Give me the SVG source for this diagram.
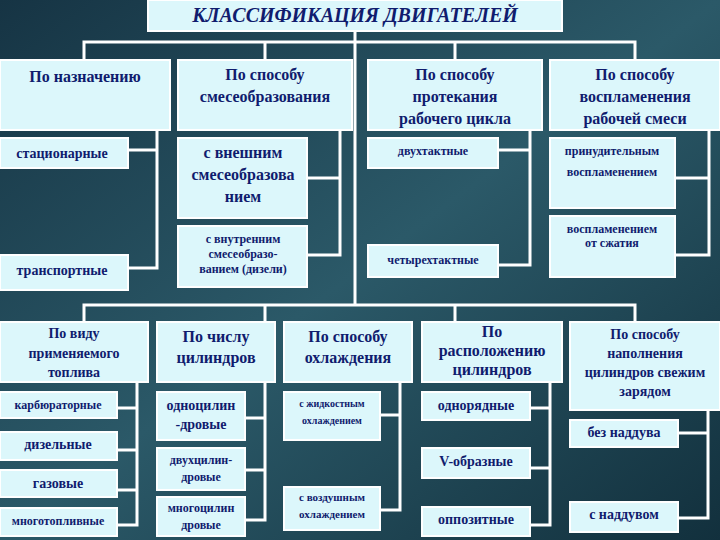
<svg xmlns="http://www.w3.org/2000/svg" width="720" height="540" viewBox="0 0 720 540">
<defs>
<linearGradient id="bg" x1="0" y1="0" x2="1" y2="1">
<stop offset="0" stop-color="#163444"/><stop offset="0.5" stop-color="#2b5968"/><stop offset="1" stop-color="#12303d"/>
</linearGradient>
</defs>
<style>
.b{fill:#dcf7fb;stroke:#ffffff;stroke-width:2}
.t{font-weight:bold;fill:#101c6e;text-anchor:middle}
.h{font-size:16px}
.s{font-size:14px}
.x{font-size:12px}
.c{fill:none;stroke:#ffffff;stroke-width:3}
</style>
<rect width="720" height="540" fill="url(#bg)"/>
<g id="connectors" class="c">
<path d="M355 31V305M84 60V42H635V60M265 42V60M455 42V60"/>
<path d="M170 95H157V268H128M128 150H157"/>
<path d="M352 95H340V255H307M307 178H340"/>
<path d="M542 95H530V265H498M498 150H530"/>
<path d="M720 95H709V255H675M675 178H709"/>
<path d="M84 322V305H635V322M265 305V322M455 305V322"/>
<path d="M148 352H137V525H117M117 408H137M117 450H137M117 490H137"/>
<path d="M265 382V520H245M245 418H265M245 470H265"/>
<path d="M400 382V510H380M380 415H400"/>
<path d="M550 382V525H530M530 408H550M530 468H550"/>
<path d="M708 410V518H678M678 433H708"/>
</g>
<g font-family="Liberation Serif, DejaVu Serif, serif">
<g id="title"><rect x="148" y="0" width="414" height="31" class="b"/><text x="355" y="22" class="t" font-size="20" font-style="italic">КЛАССИФИКАЦИЯ ДВИГАТЕЛЕЙ</text></g>
<g id="n1"><rect x="0" y="60" width="170" height="70" class="b"/><text x="85" y="82" class="t h">По назначению</text></g>
<g id="n2"><rect x="178" y="60" width="174" height="70" class="b"/><text x="265" y="80" class="t h">По способу</text><text x="265" y="102" class="t h">смесеобразования</text></g>
<g id="n3"><rect x="368" y="60" width="174" height="70" class="b"/><text x="455" y="80" class="t h">По способу</text><text x="455" y="102" class="t h">протекания</text><text x="455" y="124" class="t h">рабочего цикла</text></g>
<g id="n4"><rect x="550" y="60" width="170" height="70" class="b"/><text x="635" y="80" class="t h">По способу</text><text x="635" y="102" class="t h">воспламенения</text><text x="635" y="124" class="t h">рабочей смеси</text></g>
<g id="n1a"><rect x="0" y="138" width="128" height="30" class="b"/><text x="62" y="158" class="t s">стационарные</text></g>
<g id="n1b"><rect x="0" y="255" width="128" height="35" class="b"/><text x="62" y="275" class="t s">транспортные</text></g>
<g id="n2a"><rect x="178" y="138" width="129" height="80" class="b"/><text x="243" y="158" class="t h">с внешним</text><text x="243" y="180" class="t h">смесеобразова</text><text x="243" y="202" class="t h">нием</text></g>
<g id="n2b"><rect x="178" y="226" width="129" height="61" class="b"/><text x="243" y="243" class="t x">с внутренним</text><text x="243" y="258" class="t x">смесеобразо-</text><text x="243" y="273" class="t x">ванием (дизели)</text></g>
<g id="n3a"><rect x="368" y="138" width="130" height="30" class="b"/><text x="433" y="155" class="t x">двухтактные</text></g>
<g id="n3b"><rect x="368" y="245" width="130" height="32" class="b"/><text x="433" y="264" class="t x">четырехтактные</text></g>
<g id="n4a"><rect x="550" y="138" width="125" height="70" class="b"/><text x="612" y="155" class="t x">принудительным</text><text x="612" y="176" class="t x">воспламенением</text></g>
<g id="n4b"><rect x="550" y="216" width="125" height="61" class="b"/><text x="612" y="233" class="t x">воспламенением</text><text x="612" y="247" class="t x">от  сжатия</text></g>
<g id="m1"><rect x="0" y="322" width="148" height="60" class="b"/><text x="74" y="338" class="t s">По виду</text><text x="74" y="358" class="t s">применяемого</text><text x="74" y="377" class="t s">топлива</text></g>
<g id="m2"><rect x="157" y="322" width="118" height="60" class="b"/><text x="216" y="342" class="t h">По числу</text><text x="216" y="363" class="t h">цилиндров</text></g>
<g id="m3"><rect x="284" y="322" width="128" height="60" class="b"/><text x="348" y="342" class="t h">По способу</text><text x="348" y="363" class="t h">охлаждения</text></g>
<g id="m4"><rect x="422" y="322" width="140" height="60" class="b"/><text x="492" y="337" class="t h">По</text><text x="492" y="356" class="t h">расположению</text><text x="492" y="375" class="t h">цилиндров</text></g>
<g id="m5"><rect x="570" y="322" width="150" height="88" class="b"/><text x="645" y="339" class="t s">По способу</text><text x="645" y="358" class="t s">наполнения</text><text x="645" y="377" class="t s">цилиндров свежим</text><text x="645" y="396" class="t s">зарядом</text></g>
<g id="k1"><rect x="0" y="392" width="117" height="26" class="b"/><text x="58" y="409" class="t x">карбюраторные</text></g>
<g id="k2"><rect x="0" y="432" width="117" height="28" class="b"/><text x="58" y="449" class="t s">дизельные</text></g>
<g id="k3"><rect x="0" y="470" width="117" height="27" class="b"/><text x="58" y="488" class="t s">газовые</text></g>
<g id="k4"><rect x="0" y="508" width="117" height="28" class="b"/><text x="58" y="525" class="t x">многотопливные</text></g>
<g id="c1"><rect x="157" y="392" width="88" height="48" class="b"/><text x="201" y="410" class="t s">одноцилин</text><text x="201" y="429" class="t s">-дровые</text></g>
<g id="c2"><rect x="157" y="448" width="88" height="42" class="b"/><text x="201" y="464" class="t x">двухцилин-</text><text x="201" y="481" class="t x">дровые</text></g>
<g id="c3"><rect x="157" y="497" width="88" height="39" class="b"/><text x="201" y="512" class="t x">многоцилин</text><text x="201" y="529" class="t x">дровые</text></g>
<g id="o1"><rect x="284" y="392" width="96" height="48" class="b"/><text x="332" y="407" class="t" font-size="10">с жидкостным</text><text x="332" y="424" class="t" font-size="10">охлаждением</text></g>
<g id="o2"><rect x="284" y="487" width="96" height="43" class="b"/><text x="332" y="501" class="t" font-size="11">с воздушным</text><text x="332" y="518" class="t" font-size="11">охлаждением</text></g>
<g id="r1"><rect x="422" y="392" width="108" height="28" class="b"/><text x="476" y="410" class="t s">однорядные</text></g>
<g id="r2"><rect x="422" y="448" width="108" height="30" class="b"/><text x="476" y="466" class="t s">V-образные</text></g>
<g id="r3"><rect x="422" y="507" width="108" height="29" class="b"/><text x="476" y="524" class="t s">оппозитные</text></g>
<g id="f1"><rect x="570" y="420" width="108" height="27" class="b"/><text x="624" y="437" class="t s">без наддува</text></g>
<g id="f2"><rect x="570" y="502" width="108" height="30" class="b"/><text x="624" y="519" class="t s">с наддувом</text></g>
</g>
</svg>
